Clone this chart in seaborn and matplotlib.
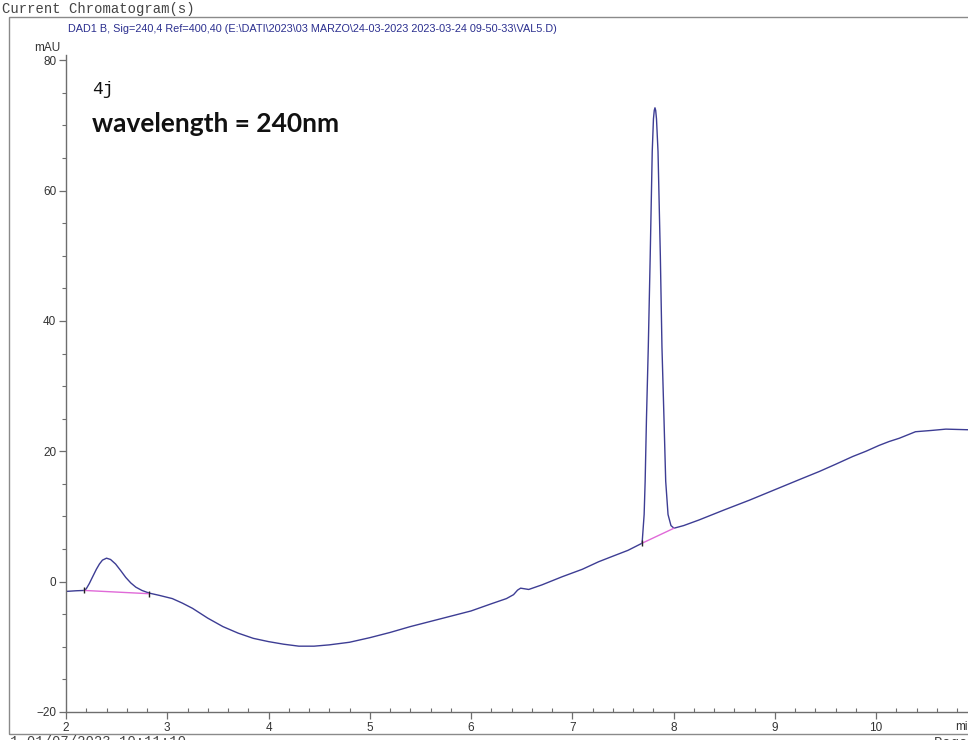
import numpy as np
import pandas as pd
import matplotlib
matplotlib.use("Agg")
import matplotlib.pyplot as plt
import seaborn as sns
from matplotlib.patches import Rectangle
from matplotlib.ticker import MultipleLocator

# retention time (min) and absorbance (mAU)
time_min = [
    2.00, 2.10, 2.18, 2.20, 2.23, 2.26, 2.30, 2.33, 2.36, 2.40, 2.44, 2.49,
    2.54, 2.59, 2.64, 2.69, 2.75, 2.82, 2.92, 3.05, 3.15, 3.25, 3.40, 3.55,
    3.70, 3.85, 4.00, 4.15, 4.30, 4.45, 4.60, 4.80, 5.00, 5.20, 5.40, 5.60,
    5.80, 6.00, 6.20, 6.35, 6.42, 6.46, 6.49, 6.53, 6.57, 6.70, 6.90, 7.10,
    7.26, 7.40, 7.55, 7.69, 7.71, 7.72, 7.733, 7.751, 7.77, 7.79, 7.802,
    7.81, 7.817, 7.824, 7.832, 7.847, 7.87, 7.886, 7.906, 7.923, 7.946,
    7.975, 8.005, 8.10, 8.25, 8.50, 8.75, 9.00, 9.25, 9.44, 9.60, 9.77,
    9.90, 10.03, 10.13, 10.23, 10.39, 10.55, 10.69, 10.92,
]
signal_mau = [
    -1.5, -1.4, -1.35, -1.1, -0.3, 0.65, 1.9, 2.7, 3.3, 3.6, 3.4, 2.7,
    1.7, 0.65, -0.2, -0.85, -1.35, -1.75, -2.1, -2.6, -3.3, -4.1, -5.6, -6.9,
    -7.9, -8.7, -9.2, -9.6, -9.9, -9.9, -9.7, -9.3, -8.6, -7.8, -6.9, -6.1,
    -5.3, -4.5, -3.4, -2.6, -2.0, -1.3, -1.0, -1.1, -1.2, -0.5, 0.75, 1.9,
    3.05, 3.9, 4.8, 5.9, 10.3, 15.4, 25.0, 36.0, 50.0, 66.0, 71.0,
    72.3, 72.7, 72.3, 71.0, 66.0, 50.0, 36.0, 25.0, 15.4, 10.3,
    8.6, 8.2, 8.6, 9.45, 11.0, 12.5, 14.1, 15.7, 16.9, 18.0, 19.2,
    20.0, 20.9, 21.5, 22.0, 23.0, 23.2, 23.4, 23.3,
]

# integration baselines (start, end) of the two peaks
base1_t = [2.18, 2.82]
base1_y = [-1.35, -1.85]
base2_t = [7.69, 8.005]
base2_y = [5.9, 8.2]

header = r"DAD1 B, Sig=240,4 Ref=400,40 (E:\DATI\2023\03 MARZO\24-03-2023 2023-03-24 09-50-33\VAL5.D)"

sns.set_style("ticks")
plt.rcParams["font.family"] = ["Liberation Sans", "DejaVu Sans"]

W, H = 968, 740
fig = plt.figure(figsize=(W / 100, H / 100), dpi=100)


def fx(px):
    return px / W


def fy(py):
    return 1 - py / H


ax = fig.add_axes([fx(66), fy(712), fx(968 - 66), (712 - 55) / H])

df = pd.DataFrame({"t": time_min, "mAU": signal_mau})
sns.lineplot(data=df, x="t", y="mAU", ax=ax, color="#3d3d94", linewidth=1.0,
             estimator=None, sort=False)
ax.plot(base1_t, base1_y, color="#e06ad8", linewidth=1.0)
ax.plot(base2_t, base2_y, color="#e06ad8", linewidth=1.0)
ax.plot([base1_t[0], base1_t[1]], [base1_y[0], base1_y[1]], linestyle="none",
        marker="|", markersize=5, color="#222222", markeredgewidth=1)
ax.plot([base2_t[0]], [base2_y[0]], linestyle="none", marker="|",
        markersize=5, color="#222222", markeredgewidth=1)

ax.set_xlim(2, 2 + (968 - 66) / 101.25)
ax.set_ylim(-20, 80.8)
ax.set_xticks([2, 3, 4, 5, 6, 7, 8, 9, 10])
ax.set_yticks([-20, 0, 20, 40, 60, 80])
ax.xaxis.set_minor_locator(MultipleLocator(0.2))
ax.yaxis.set_minor_locator(MultipleLocator(5))
ax.set_xlabel("")
ax.set_ylabel("")
for side in ["top", "right"]:
    ax.spines[side].set_visible(False)
for side in ["left", "bottom"]:
    ax.spines[side].set_color("#6e6e6e")
    ax.spines[side].set_linewidth(1.0)
ax.tick_params(axis="both", which="major", labelsize=8.5, colors="#6e6e6e",
               labelcolor="#333333", length=5, width=0.9, pad=2)
ax.tick_params(axis="both", which="minor", colors="#6e6e6e", length=3, width=0.8)
ax.tick_params(axis="x", which="minor", direction="in")

# outer frame
fig.patches.append(Rectangle((fx(9), fy(734)), fx(980 - 9), (734 - 17) / H,
                             transform=fig.transFigure, fill=False,
                             edgecolor="#8a8a8a", linewidth=1.0))

fig.text(fx(2), fy(9), "Current Chromatogram(s)", family="Liberation Mono",
         fontsize=10, color="#444444", va="center", ha="left")
fig.text(fx(68), fy(29), header, fontsize=7.8, color="#2b2f8f",
         va="center", ha="left")
fig.text(fx(60), fy(48), "mAU", fontsize=8.5, color="#333333",
         va="center", ha="right")
fig.text(fx(955), fy(727), "min", fontsize=8.5, color="#333333",
         va="center", ha="left")
fig.text(fx(92), fy(90), "4j", family="Liberation Mono", fontsize=13,
         color="#111111", va="center", ha="left")
fig.text(fx(92), fy(124), "wavelength = 240nm", family="Lato",
         fontweight="bold", fontsize=19, color="#111111", va="center", ha="left")
fig.text(fx(-82), fy(735), "Instrument 1 01/07/2023 10:11:10",
         family="Liberation Mono", fontsize=10, color="#444444", va="top",
         ha="left")
fig.text(fx(934), fy(736), "Page 1 of 1", family="Liberation Mono",
         fontsize=10, color="#444444", va="top", ha="left")

fig.savefig("out.png", dpi=100)
